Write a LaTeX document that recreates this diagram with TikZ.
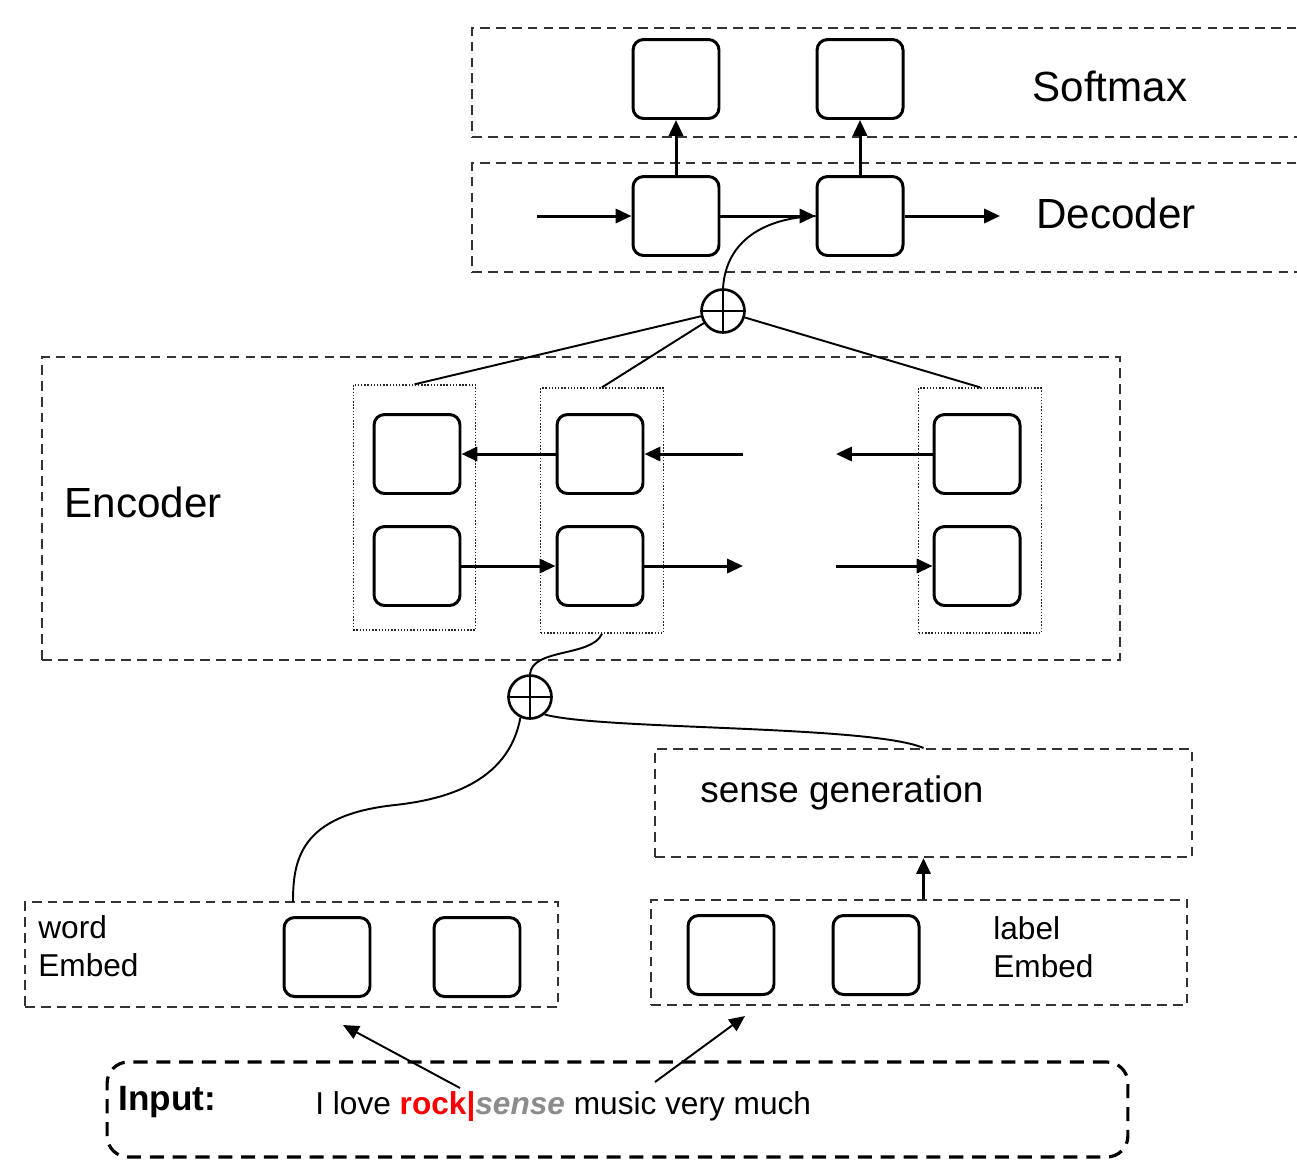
\documentclass[tikz,border=0pt]{standalone}
\usepackage{fontspec}
\setmainfont{Liberation Sans}
\usetikzlibrary{arrows.meta}

\begin{document}
\begin{tikzpicture}[x=0.02cm, y=-0.02cm]
		\tikzstyle{cell}=[draw, line width=1.7pt, rounded corners=6pt, minimum width=1.72cm, minimum height=1.58cm, inner sep=0pt]
		\tikzstyle{frame}=[draw=black!80, line width=1.2pt, dash pattern=on 5.5pt off 3.5pt, inner sep=0pt]
		\tikzstyle{encol}=[draw=black!85, line width=0.8pt, dash pattern=on 0.8pt off 1pt, inner sep=0pt, minimum width=2.45cm, minimum height=4.9cm]
		\tikzstyle{sum}=[draw, circle, line width=1.5pt, minimum size=0.86cm, inner sep=0pt]
		\tikzstyle{flow}=[line width=1.7pt, -{Triangle[length=9pt,width=8pt]}]
		\tikzstyle{wire}=[line width=1.1pt]
		\tikzstyle{big}=[font=\fontsize{24}{28}\selectfont, inner sep=0pt]
		\tikzstyle{small}=[font=\fontsize{18}{21.5}\selectfont, inner sep=0pt]

		\useasboundingbox (0,0) rectangle (1297,1160);
		\clip (0,0) rectangle (1297,1160);

		% frames
		\node[frame, minimum width=16.96cm, minimum height=2.18cm] (softbox) at (896,82.5) {};
		\node[frame, minimum width=16.96cm, minimum height=2.18cm] (decbox) at (896,217.5) {};
		\node[frame, minimum width=21.56cm, minimum height=6.06cm] (encbox) at (581,508.5) {};
		\node[frame, minimum width=10.74cm, minimum height=2.16cm] (sensebox) at (923.5,803) {};
		\node[frame, minimum width=10.66cm, minimum height=2.1cm] (wordbox) at (291.5,954.5) {};
		\node[frame, minimum width=10.72cm, minimum height=2.1cm] (labelbox) at (919,952.5) {};
		\node[frame, draw=black, line width=1.8pt, dash pattern=on 8pt off 5pt, rounded corners=12pt,
			minimum width=20.42cm, minimum height=1.9cm] (inbox) at (617.5,1109.5) {};

		\node[encol] (col1) at (414.5,507.5) {};
		\node[encol] (col2) at (602,510.5) {};
		\node[encol] (col3) at (980,510.5) {};

		% cells
		\node[cell] (soft1) at (676,79) {};
		\node[cell] (soft2) at (860,79) {};
		\node[cell] (dec1) at (676,216) {};
		\node[cell] (dec2) at (860,216) {};

		\node[cell] (b1) at (417,454) {};
		\node[cell] (b2) at (600,454) {};
		\node[cell] (b3) at (977,454) {};
		\node[cell] (f1) at (417,566) {};
		\node[cell] (f2) at (600,566) {};
		\node[cell] (f3) at (977,566) {};

		\node[cell] (w1) at (327,957) {};
		\node[cell] (w2) at (477,957) {};
		\node[cell] (l1) at (731,955) {};
		\node[cell] (l2) at (876,955) {};

		\node[sum] (sumtop) at (723,311) {};
		\node[sum] (sumbot) at (530,697) {};
		\draw[line width=1.5pt] (sumtop.north) -- (sumtop.south) (sumtop.west) -- (sumtop.east);
		\draw[line width=1.5pt] (sumbot.north) -- (sumbot.south) (sumbot.west) -- (sumbot.east);

		% labels
		\node[big] (softlbl) at (1110,86) {Softmax};
		\node[big] (declbl) at (1116,213) {Decoder};
		\node[big] (enclbl) at (143,502) {Encoder};
		\node[font=\fontsize{21}{25}\selectfont, inner sep=0pt, anchor=west] (senselbl) at (700,793) {sense generation};
		\node[small, anchor=west, align=left] (wordlbl) at (38,946) {word\\Embed};
		\node[small, anchor=west, align=left] (labellbl) at (993,947) {label\\Embed};
		\node[font=\bfseries\fontsize{20}{24}\selectfont, inner sep=0pt, anchor=west] (inlbl) at (118,1102) {Input:};
		\node[small, anchor=west] (sentence) at (315,1107)
			{I love \textcolor{red}{\textbf{rock|}}\textcolor{black!45}{\textbf{\textit{sense}}} music very much};

		% decoder
		\coordinate (decin) at (537,216);
		\coordinate (decout) at (1000,216);
		\draw[flow] (decin) -- (dec1);
		\draw[flow] (dec1) -- (dec2);
		\draw[flow] (dec2) -- (decout);
		\draw[flow] (dec1) -- (soft1);
		\draw[flow] (dec2) -- (soft2);

		% encoder
		\coordinate (bgap) at (743,454);
		\coordinate (bend) at (836,454);
		\coordinate (fgap) at (743,566);
		\coordinate (fend) at (836,566);
		\draw[flow] (b2) -- (b1);
		\draw[flow] (bgap) -- (b2);
		\draw[flow] (b3) -- (bend);
		\draw[flow] (f1) -- (f2);
		\draw[flow] (f2) -- (fgap);
		\draw[flow] (fend) -- (f3);

		\draw[wire] (sumtop) -- (col1.north);
		\draw[wire] (sumtop) -- (col2.north);
		\draw[wire] (sumtop) -- (col3.north);
		\draw[wire] (sumtop.north) .. controls (726,240) and (765,218) .. (dec2.west);

		% bottom part
		\coordinate (wtop) at (293,902);
		\coordinate (mid) at (395,805);
		\draw[wire] (col2.south) .. controls (592,657) and (532,648) .. (sumbot.north);
		\draw[wire] (sumbot.-50) .. controls (600,730) and (870,725) .. (sensebox.north);
		\draw[wire] (sumbot.-115) .. controls (508,785) and (440,800) .. (mid)
			.. controls (300,815) and (293,860) .. (wtop);
		\draw[flow] (labelbox.north -| sensebox.south) -- (sensebox.south);

		\coordinate (src1) at (460,1088);
		\coordinate (src2) at (655,1082);
		\coordinate (wordin) at (343,1025);
		\coordinate (labelin) at (745,1016);
		\draw[flow, line width=1.1pt] (src1) -- (wordin);
		\draw[flow, line width=1.1pt] (src2) -- (labelin);
\end{tikzpicture}
\end{document}
